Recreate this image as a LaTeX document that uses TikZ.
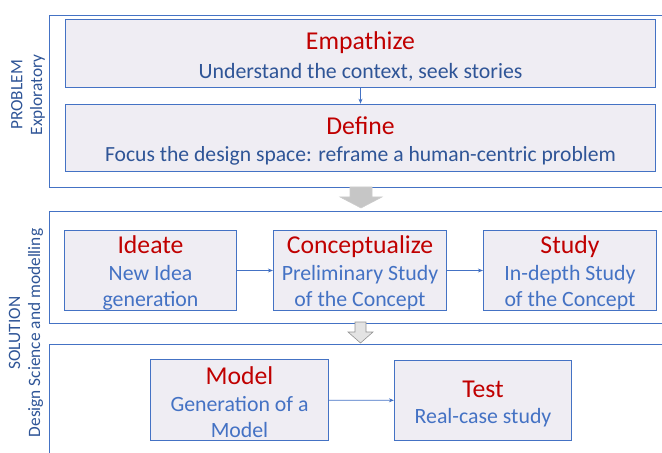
\documentclass[tikz,border=0pt]{standalone}
\usepackage{fontspec}
\setmainfont{Carlito}
\usetikzlibrary{arrows.meta,positioning}
\definecolor{marco}{HTML}{4472C4}
\definecolor{relleno}{HTML}{EFEDF3}
\definecolor{rojo}{HTML}{C00000}
\definecolor{oscuro}{HTML}{2F5597}
\newcommand{\ttl}[1]{{\fontsize{25.8}{29}\selectfont\color{rojo}\rule{0pt}{23pt}#1}}
\tikzset{
  frame/.style={draw=marco,line width=0.9pt},
  stage/.style={draw=marco,fill=relleno,line width=0.9pt,align=center,inner sep=0pt,
    text=marco,font=\fontsize{21.9}{26.5}\selectfont},
  lado/.style={rotate=90,align=center,text=oscuro,font=\fontsize{17.4}{20}\selectfont},
  link/.style={-{Stealth[length=5pt,width=4pt]},draw=marco,line width=0.8pt},
  bloque/.style={line width=0.6pt}
}

\begin{document}
\begin{tikzpicture}[x=1bp,y=-1bp]
\clip (0,0) rectangle (662,453);
% panel 1: problem
\draw[frame] (49,15) rectangle (700,187);
\node[lado] (prob) at (28,95) {PROBLEM\\Exploratory};
\node[stage,minimum width=593,minimum height=69,text=oscuro,font=\fontsize{21.9}{29}\selectfont]
  (emp) at (360.5,53.5) {\ttl{Empathize}\\Understand the context, seek stories};
\node[stage,minimum width=593,minimum height=68,text=oscuro,font=\fontsize{21.7}{27}\selectfont]
  (def) at (360.5,138) {\ttl{Define}\\Focus the design space: reframe a human-centric problem};
\draw[link] (emp) -- (def);
% bajada al panel 2
\draw[bloque,draw=gray!40,fill=gray!45] (350,187) -- (372,187) -- (372,197) -- (382,197)
  -- (361,208) -- (340,197) -- (350,197) -- cycle;
% panel 2: solution
\draw[frame] (49,211) rectangle (700,323);
\node[lado] (sol) at (26,333) {SOLUTION\\Design Science and modelling};
\node[stage,minimum width=173,minimum height=81] (ide) at (150.5,270.5)
  {\ttl{Ideate}\\New Idea\\generation};
\node[stage,minimum width=174,minimum height=81] (con) at (360,270.5)
  {\ttl{Conceptualize}\\Preliminary Study\\of the Concept};
\node[stage,minimum width=174,minimum height=81] (stu) at (570,270.5)
  {\ttl{Study}\\In-depth Study\\of the Concept};
\draw[link] (ide) -- (con);
\draw[link] (con) -- (stu);
% bajada al panel 3
\draw[bloque,draw=gray!85,fill=gray!22] (355,322) -- (366,322) -- (366,332) -- (373,332)
  -- (360.5,343) -- (348,332) -- (355,332) -- cycle;
% panel 3
\draw[frame] (49,344) rectangle (700,480);
\node[stage,minimum width=179,minimum height=82] (mod) at (239.5,400)
  {\ttl{Model}\\Generation of a\\Model};
\node[stage,minimum width=178,minimum height=81] (tes) at (483,400.5)
  {\ttl{Test}\\Real-case study};
\draw[link] (mod) -- (tes);
\end{tikzpicture}
\end{document}
